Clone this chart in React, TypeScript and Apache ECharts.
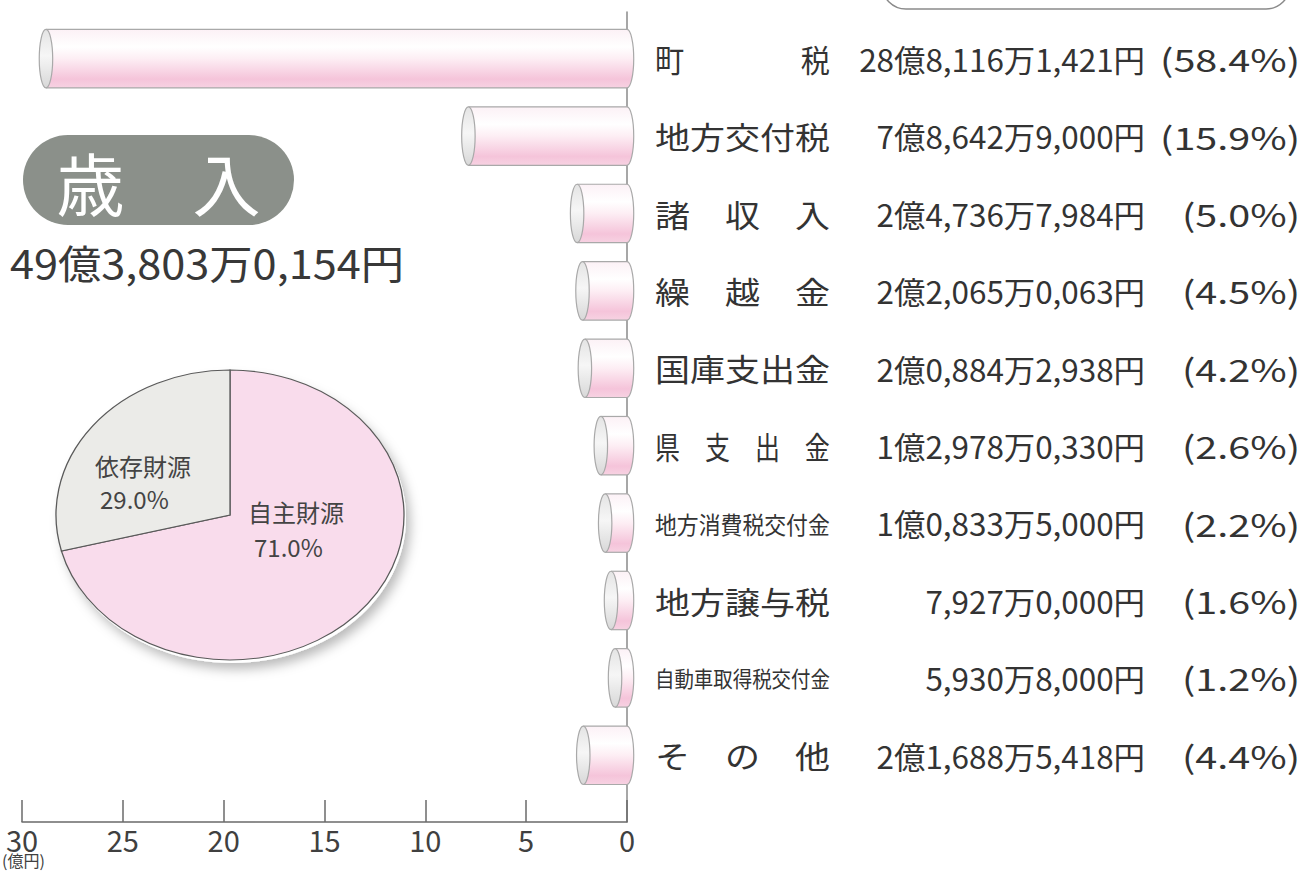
import React, { useEffect, useRef } from 'react';
import * as echarts from 'echarts';

// ---- data ----
const categories = ['町　　　　税', '地方交付税', '諸　収　入', '繰　越　金', '国庫支出金', '県　支　出　金', '地方消費税交付金', '地方譲与税', '自動車取得税交付金', 'そ　の　他'];
const amountsYen = [2881161421, 786429000, 247367984, 220650063, 208842938, 129780330, 108335000, 79270000, 59308000, 216885418];
const percents = [58.4, 15.9, 5.0, 4.5, 4.2, 2.6, 2.2, 1.6, 1.2, 4.4];
const axisMin = 0;
const axisMax = 30;
const axisInterval = 5;
const pieNames = ['自主財源', '依存財源'];
const pieValues = [71.0, 29.0];
const totalYen = 4938030154;
const titleText = '歳　入';
const unitText = '(億円)';

const FONT = '"Noto Sans CJK JP", "Noto Sans", sans-serif';

function fmtYen(v: number): string {
  const oku = Math.floor(v / 1e8);
  const man = Math.floor((v % 1e8) / 1e4);
  const rest = v % 1e4;
  const g4 = (n: number) => {
    const s = String(n).padStart(4, '0');
    return s[0] + ',' + s.slice(1);
  };
  let manStr: string;
  if (oku > 0) manStr = g4(man);
  else manStr = man >= 1000 ? String(man)[0] + ',' + String(man).slice(1) : String(man);
  return (oku > 0 ? oku + '億' : '') + manStr + '万' + g4(rest) + '円';
}
const fmtPct = (p: number) => '(' + p.toFixed(1) + '%)';

let measureCtx: CanvasRenderingContext2D | null = null;
function textW(t: string, fs: number): number {
  if (!measureCtx) measureCtx = document.createElement('canvas').getContext('2d');
  if (!measureCtx) return t.length * fs;
  measureCtx.font = `${fs}px ${FONT}`;
  return measureCtx.measureText(t).width;
}

export default function App() {
  const ref = useRef<HTMLDivElement>(null);

  useEffect(() => {
    document.body.style.margin = '0';
    if (!ref.current) return;
    const chart = echarts.init(ref.current, undefined, { renderer: 'svg' });

    const nameTarget = 175;
    const amtFs = 31;
    const amtScale = 286 / textW(fmtYen(amountsYen[0]), amtFs);
    const pctFs = 31;
    const pctScale = 140 / textW(fmtPct(percents[0]), pctFs);

    const bodyStops = [
      { offset: 0, color: '#fcf1f6' },
      { offset: 0.3, color: '#ffffff' },
      { offset: 0.5, color: '#fdeef4' },
      { offset: 0.85, color: '#f5c4da' },
      { offset: 1, color: '#f7d2e2' },
    ];
    const capStops = [
      { offset: 0, color: '#e4e4e4' },
      { offset: 0.45, color: '#f6f6f6' },
      { offset: 1, color: '#d8d8d8' },
    ];
    const edge = '#a9a9a9';

    const barData = amountsYen.map((v, i) => [v / 1e8, i]);
    const pieTotal = pieValues.reduce((a, b) => a + b, 0);
    const pieColors = ['#f9dcec', '#ebebe8'];
    const pieCx = 230, pieCy = 515, pieRx = 174, pieRy = 145;

    const totalStr = fmtYen(totalYen);
    const totalFs = 40;
    const totalScale = 394 / textW(totalStr, totalFs);

    const option: any = {
      animation: false,
      backgroundColor: '#ffffff',
      grid: { left: 22, right: 1303 - 627, top: 12, bottom: 872 - 822, containLabel: false },
      xAxis: {
        type: 'value',
        min: axisMin,
        max: axisMax,
        interval: axisInterval,
        inverse: true,
        position: 'bottom',
        axisLine: { show: true, onZero: false, lineStyle: { color: '#6a6a6a', width: 1.5 } },
        axisTick: { show: true, inside: true, length: 22, lineStyle: { color: '#6a6a6a', width: 1.5 } },
        axisLabel: { show: true, fontSize: 29, color: '#404040', fontFamily: FONT, margin: 2 },
        splitLine: { show: false },
      },
      yAxis: {
        type: 'value',
        inverse: true,
        min: -0.603,
        max: 9.862,
        position: 'right',
        axisLine: { show: true, onZero: false, lineStyle: { color: '#8a8a8a', width: 1.5 } },
        axisTick: { show: false },
        axisLabel: { show: false },
        splitLine: { show: false },
      },
      series: [
        {
          type: 'custom',
          name: '歳入',
          coordinateSystem: 'cartesian2d',
          data: barData,
          clip: false,
          renderItem: (params: any, api: any) => {
            const idx = params.dataIndex;
            const v = api.value(0);
            const i = api.value(1);
            const pr = api.coord([0, i]);
            const pl = api.coord([v, i]);
            const band = Math.abs(api.size([0, 1])[1]);
            const h = band * 0.755;
            const ry = h / 2;
            const rx = h * 0.115;
            const cy = pr[1];
            const xr = pr[0];
            const xl = pl[0];
            const top = cy - ry;
            const bodyFill = new echarts.graphic.LinearGradient(0, 0, 0, 1, bodyStops);
            const capFill = new echarts.graphic.LinearGradient(0, 0, 0, 1, capStops);

            const name = categories[idx];
            const nameFs = name.length >= 9 ? 22 : name.length >= 8 ? 24 : 31;
            const nameScale = nameTarget / textW(name, nameFs);
            const amt = fmtYen(amountsYen[idx]);
            const pct = fmtPct(percents[idx]);

            return {
              type: 'group',
              children: [
                { type: 'ellipse', shape: { cx: xr, cy, rx, ry }, style: { fill: bodyFill, stroke: edge, lineWidth: 1.2 } },
                { type: 'rect', shape: { x: xl, y: top, width: xr - xl, height: h }, style: { fill: bodyFill } },
                { type: 'line', shape: { x1: xl, y1: top, x2: xr, y2: top }, style: { stroke: edge, lineWidth: 1.2 } },
                { type: 'line', shape: { x1: xl, y1: top + h, x2: xr, y2: top + h }, style: { stroke: edge, lineWidth: 1.2 } },
                { type: 'ellipse', shape: { cx: xl, cy, rx, ry }, style: { fill: capFill, stroke: edge, lineWidth: 1.2 } },
                {
                  type: 'text', x: xr + 28, y: cy, scaleX: nameScale,
                  style: { text: name, fontSize: nameFs, fontFamily: FONT, fill: '#333333', align: 'left', verticalAlign: 'middle' },
                },
                {
                  type: 'text', x: xr + 518, y: cy, scaleX: amtScale,
                  style: { text: amt, fontSize: amtFs, fontFamily: FONT, fill: '#333333', align: 'right', verticalAlign: 'middle' },
                },
                {
                  type: 'text', x: xr + 673, y: cy, scaleX: pctScale,
                  style: { text: pct, fontSize: pctFs, fontFamily: FONT, fill: '#333333', align: 'right', verticalAlign: 'middle' },
                },
              ],
            };
          },
        },
        {
          type: 'custom',
          name: '財源',
          coordinateSystem: 'none',
          data: pieValues.map((v) => [v]),
          renderItem: (params: any, api: any) => {
            const i = params.dataIndex;
            let before = 0;
            for (let k = 0; k < i; k++) before += pieValues[k];
            const a0 = -Math.PI / 2 + (before / pieTotal) * Math.PI * 2;
            const a1 = a0 + (api.value(0) / pieTotal) * Math.PI * 2;
            return {
              type: 'group',
              x: pieCx,
              y: pieCy,
              scaleY: pieRy / pieRx,
              children: [
                {
                  type: 'sector',
                  shape: { cx: 0, cy: 0, r0: 0, r: pieRx, startAngle: a0, endAngle: a1, clockwise: true },
                  style: { fill: pieColors[i], stroke: '#5a5a5a', lineWidth: 1.3 },
                },
              ],
            };
          },
        },
      ],
      graphic: [
        {
          type: 'ellipse', z: -10,
          shape: { cx: pieCx + 2, cy: pieCy + 3, rx: pieRx, ry: pieRy },
          style: { fill: '#ffffff', shadowBlur: 12, shadowColor: 'rgba(0,0,0,0.28)', shadowOffsetX: 4, shadowOffsetY: 6 },
        },
        {
          type: 'rect', z: 10,
          shape: { x: 23, y: 135, width: 271, height: 90, r: 45 },
          style: { fill: '#8b908a' },
        },
        {
          type: 'text', z: 11, x: 158.5, y: 181,
          style: { text: titleText, fontSize: 68, fontFamily: FONT, fill: '#ffffff', align: 'center', verticalAlign: 'middle' },
        },
        {
          type: 'text', z: 11, x: 10, y: 262, scaleX: totalScale,
          style: { text: totalStr, fontSize: totalFs, fontFamily: FONT, fill: '#383838', align: 'left', verticalAlign: 'middle' },
        },
        {
          type: 'rect', z: 10,
          shape: { x: 882, y: -40, width: 408, height: 49, r: 24 },
          style: { fill: 'none', stroke: '#8a8a8a', lineWidth: 1.5 },
        },
        {
          type: 'text', z: 11, x: 95, y: 465,
          style: { text: pieNames[1], fontSize: 24, fontFamily: FONT, fill: '#444444', align: 'left', verticalAlign: 'middle' },
        },
        {
          type: 'text', z: 11, x: 100, y: 498,
          style: { text: pieValues[1].toFixed(1) + '%', fontSize: 24, fontFamily: FONT, fill: '#444444', align: 'left', verticalAlign: 'middle' },
        },
        {
          type: 'text', z: 11, x: 248, y: 511,
          style: { text: pieNames[0], fontSize: 24, fontFamily: FONT, fill: '#444444', align: 'left', verticalAlign: 'middle' },
        },
        {
          type: 'text', z: 11, x: 254, y: 546,
          style: { text: pieValues[0].toFixed(1) + '%', fontSize: 24, fontFamily: FONT, fill: '#444444', align: 'left', verticalAlign: 'middle' },
        },
        {
          type: 'text', z: 11, x: 2, y: 860,
          style: { text: unitText, fontSize: 16, fontFamily: FONT, fill: '#404040', align: 'left', verticalAlign: 'middle' },
        },
      ],
    };

    chart.setOption(option);
    return () => chart.dispose();
  }, []);

  return <div ref={ref} style={{ position: 'fixed', left: 0, top: 0, width: 1303, height: 872 }} />;
}
